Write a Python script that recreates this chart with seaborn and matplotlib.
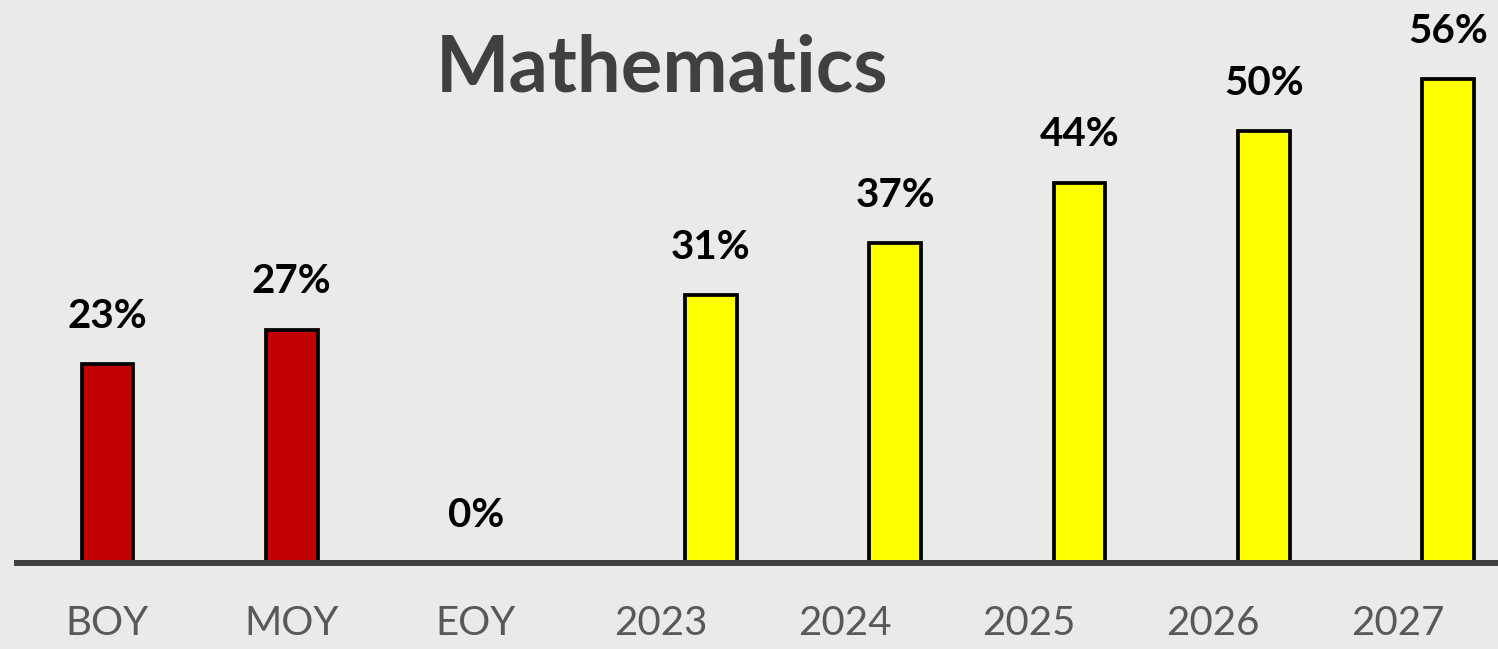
import matplotlib
matplotlib.use("Agg")
import matplotlib.pyplot as plt
import seaborn as sns
import pandas as pd

categories = ["BOY", "MOY", "EOY", "2023", "2024", "2025", "2026", "2027"]
groups = ["Actual", "Actual", "Actual", "Target", "Target", "Target", "Target", "Target"]
values = [23, 27, 0, 31, 37, 44, 50, 56]
title = "Mathematics"

BG = "#EAEBE9"
palette = {"Actual": "#C00000", "Target": "#FFFF00"}

df = pd.DataFrame({"period": categories, "group": groups, "pct": values})

sns.set_theme(style="white")
plt.rcParams["font.family"] = ["Lato", "DejaVu Sans"]

fig = plt.figure(figsize=(14.98, 6.49), dpi=100, facecolor=BG)
ax = fig.add_axes([0, 0, 1, 1])
ax.set_facecolor(BG)

sns.barplot(data=df, x="period", y="pct", hue="group", order=categories,
            palette=palette, saturation=1, dodge=False, width=0.28, edgecolor="black",
            linewidth=2.7, legend=False, ax=ax, zorder=3)

shift = 0.274
for ci, cont in enumerate(ax.containers):
    for p in cont.patches:
        if ci == 1:
            p.set_x(p.get_x() + shift)
        if p.get_height() == 0:
            p.set_linewidth(0)
        cx = p.get_x() + p.get_width() / 2
        h = p.get_height()
        ax.annotate(f"{h:.0f}%", (cx, h), xytext=(0, 34.5), textcoords="offset points",
                    ha="center", va="center", fontsize=29, fontweight="bold", color="black")

ax.set_xlim(-0.583, 7.545)
ax.set_ylim(-9.95, 65.16)
ax.set_xlabel("")
ax.set_ylabel("")
ax.set_yticks([])
for s in ["top", "left", "right"]:
    ax.spines[s].set_visible(False)
ax.spines["bottom"].set_position(("data", 0))
ax.spines["bottom"].set_bounds(-0.49, 7.545)
ax.spines["bottom"].set_linewidth(4.3)
ax.spines["bottom"].set_color("#404040")
ax.spines["bottom"].set_zorder(4)
ax.tick_params(axis="x", length=0, pad=30.5, labelsize=29, labelcolor="#595959")

fig.text(662 / 1498, 1 - 92 / 649, title, ha="center", va="baseline",
         fontsize=56, fontweight="bold", color="#404040")

fig.savefig("out.png", dpi=100, facecolor=BG)
